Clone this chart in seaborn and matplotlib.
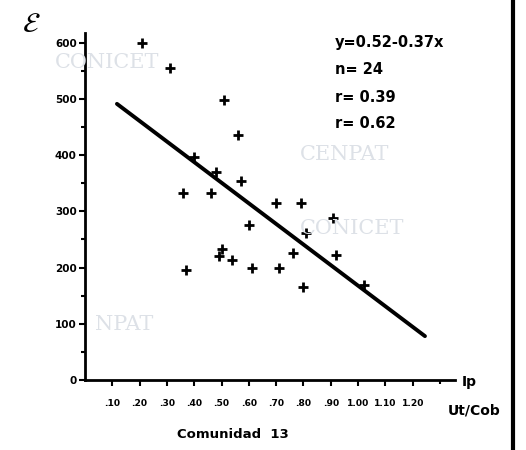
import matplotlib
matplotlib.use("Agg")
import matplotlib.pyplot as plt
from matplotlib.lines import Line2D
import seaborn as sns
import pandas as pd

# data
ip_values = [0.21, 0.31, 0.51, 0.56, 0.40, 0.48, 0.57, 0.36, 0.46, 0.70, 0.79, 0.91,
             0.60, 0.81, 0.49, 0.50, 0.54, 0.76, 0.92, 0.37, 0.61, 0.71, 0.80, 1.02]
e_values = [600, 555, 498, 436, 397, 370, 354, 333, 333, 315, 315, 288,
            276, 262, 221, 233, 213, 225, 222, 196, 199, 199, 166, 169]
fit_x = [0.117, 1.245]
fit_y = [491, 78]
x_ticks = [0.1, 0.2, 0.3, 0.4, 0.5, 0.6, 0.7, 0.8, 0.9, 1.0, 1.1, 1.2]
x_tick_labels = [".10", ".20", ".30", ".40", ".50", ".60", ".70", ".80", ".90", "1.00", "1.10", "1.20"]
y_ticks = [0, 100, 200, 300, 400, 500, 600]
y_tick_labels = ["0", "100", "200", "300", "400", "500", "600"]
stats_lines = ["y=0.52-0.37x", "n= 24", "r= 0.39", "r= 0.62"]

sns.set_style("ticks")
plt.rcParams['font.family'] = ['DejaVu Sans']
plt.rcParams['text.color'] = 'black'
plt.rcParams['xtick.color'] = 'black'
plt.rcParams['ytick.color'] = 'black'

fig = plt.figure(figsize=(5.26, 4.5), dpi=100)
ax = fig.add_axes([85/526, 70/450, 370/526, 347/450])

df = pd.DataFrame({"Ip": ip_values, "E": e_values})
sns.scatterplot(data=df, x="Ip", y="E", marker="+", s=60, linewidth=2.0,
                color="black", ax=ax, zorder=3)
sns.lineplot(x=fit_x, y=fit_y, color="black", linewidth=2.8, ax=ax)

ax.set_xlim(0, 1.355)
ax.set_ylim(0, 617)
ax.set_xlabel("")
ax.set_ylabel("")

for s in ["top", "right"]:
    ax.spines[s].set_visible(False)
for s in ["left", "bottom"]:
    ax.spines[s].set_linewidth(2.0)
    ax.spines[s].set_color("black")

ax.set_xticks(x_ticks)
ax.set_xticklabels(x_tick_labels, fontsize=6.6, fontweight="bold")
ax.set_yticks(y_ticks)
ax.set_yticklabels(y_tick_labels, fontsize=7.5, fontweight="bold")
ax.set_yticks([50, 150, 250, 350, 450, 550], minor=True)
ax.set_xticks([1.3], minor=True)
ax.tick_params(axis="both", which="major", direction="out", length=4, width=1.5, pad=2)
ax.tick_params(axis="x", which="major", pad=10)
ax.tick_params(axis="both", which="minor", direction="out", length=3, width=1.5)

# stats text
for i, t in enumerate(stats_lines):
    fig.text(335/526, 1 - (43 + i * 27)/450, t, fontsize=10.5, fontweight="bold",
             va="center", ha="left")

fig.text(22/526, 1 - 24/450, r"$\mathcal{E}$", fontsize=20, va="center", ha="left")
fig.text(462/526, 1 - 382/450, "Ip", fontsize=10, fontweight="bold", va="center", ha="left")
fig.text(448/526, 1 - 410/450, "Ut/Cob", fontsize=10, fontweight="bold", va="center", ha="left")
fig.text(233/526, 1 - 435/450, "Comunidad  13", fontsize=9.5, fontweight="bold",
         va="center", ha="center")

# faint watermarks
wm = dict(color="#dde1e7", fontsize=15, family="DejaVu Serif", va="center", ha="left", zorder=0)
fig.text(55/526, 1 - 63/450, "CONICET", **wm)
fig.text(300/526, 1 - 155/450, "CENPAT", **wm)
fig.text(300/526, 1 - 228/450, "CONICET", **wm)
fig.text(95/526, 1 - 325/450, "NPAT", **wm)

# right scan border
fig.add_artist(Line2D([513/526, 513/526], [0, 1], transform=fig.transFigure,
                      color="black", linewidth=3))

fig.savefig("out.png", dpi=100)
